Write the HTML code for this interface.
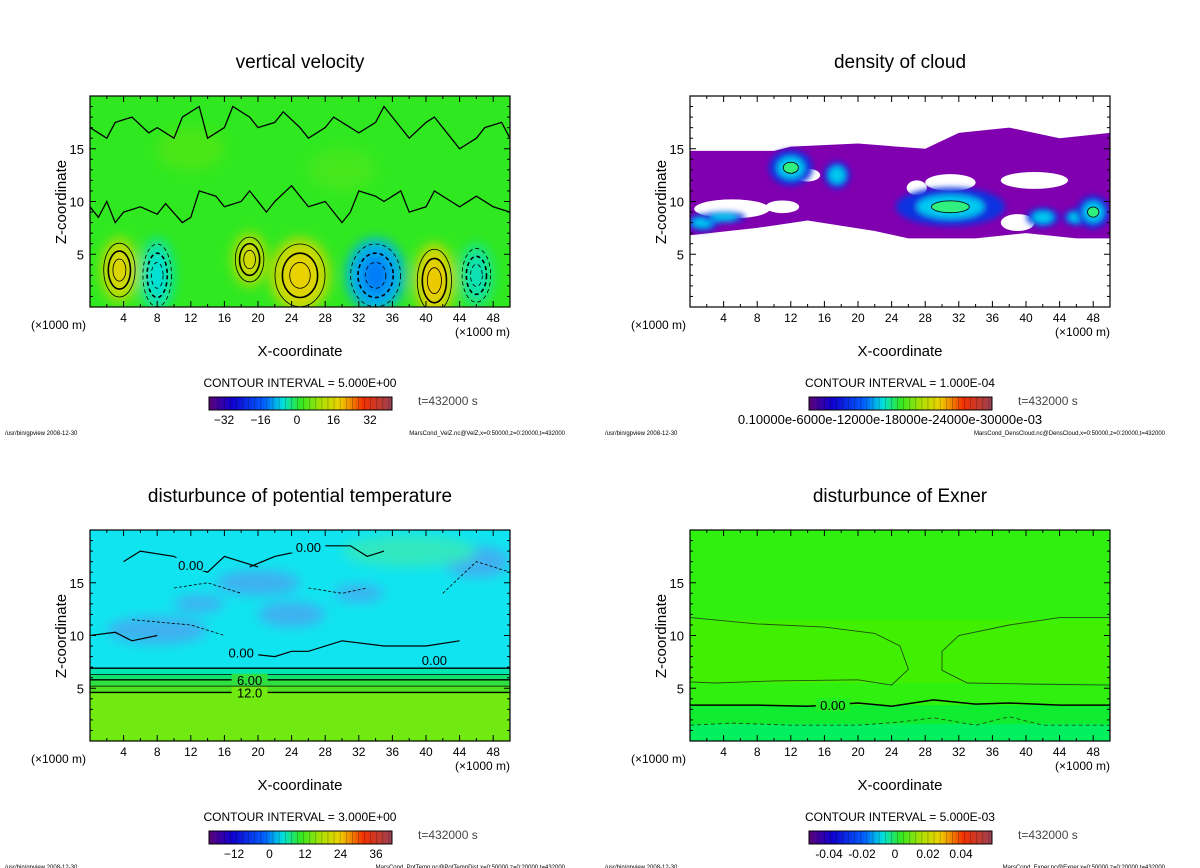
<!DOCTYPE html>
<html><head><meta charset="utf-8">
<style>
html,body{margin:0;padding:0;background:#fff;}
svg{display:block;font-family:"Liberation Sans","DejaVu Sans",sans-serif;}
</style></head>
<body>
<svg id="root" width="1200" height="868" viewBox="0 0 1200 868" xmlns="http://www.w3.org/2000/svg">
<defs>
<filter id="blur6" x="-50%" y="-50%" width="200%" height="200%"><feGaussianBlur stdDeviation="6"/></filter>
<filter id="blur3" x="-50%" y="-50%" width="200%" height="200%"><feGaussianBlur stdDeviation="3"/></filter>
</defs>
</svg>
<script>
// ---------- data ----------
const xTicks = [4,8,12,16,20,24,28,32,36,40,44,48];
const zTicks = [5,10,15];
// vertical velocity blobs: x (km), z (km), rx, rz, value (m/s)
const velX = [3.5, 8, 19, 25, 34, 41, 46, 12, 30];
const velZ = [3.5, 3, 4.5, 3, 3, 2.5, 3, 15, 13];
const velRX = [2.2, 2, 2, 3.5, 3.5, 2.4, 2, 4, 4];
const velRZ = [3, 3.5, 2.5, 3.5, 3.5, 3.5, 3, 2, 2];
const velV = [12, -6, 11, 13, -11, 14, -5, 2, 1.5];
// zero contour polylines of vertical velocity
const velZero1 = [[0,9.5],[1,8.5],[2,10],[3,8],[4,9],[6,9.5],[8,8.8],[9,9.8],[11,8],[12,8.5],[13,11],[15,10.5],[16,9.5],[18,10],[19,11],[21,9],[22,10],[24,11.5],[26,9.5],[28,10],[30,8],[31,9],[32,11],[34,10.5],[35,10],[37,11],[38,9],[40,9.5],[41,11],[43,10],[44,9.5],[46,10.5],[48,9.5],[50,9]];
const velZero2 = [[0,17],[2,16],[3,17.5],[5,18],[7,16.5],[8,17],[10,16],[11,18],[13,19],[14,16],[16,17],[17,19],[19,18],[20,17],[22,17.5],[23,18.5],[25,17],[26,16],[28,17],[29,18],[31,17],[32,16.5],[34,17.5],[35,19],[37,17],[38,16],[40,17.5],[41,18],[43,16],[44,15],[46,16],[47,17],[49,17.5],[50,16]];
// cloud density: purple band and holes
const cloudTop = [[0,14.8],[10,14.8],[12,15.2],[20,15.5],[28,15],[32,16.5],[38,17],[44,16],[50,16.5]];
const cloudBot = [[0,6.8],[8,7.5],[14,8.2],[22,7.2],[26,6.5],[34,6.5],[40,7],[46,6.5],[50,6.5]];
const holeX = [5, 14, 27, 31, 41, 39, 11];
const holeZ = [9.3, 12.5, 11.3, 11.8, 12, 8, 9.5];
const holeRX = [4.5, 1.5, 1.2, 3, 4, 2, 2];
const holeRZ = [0.9, 0.6, 0.7, 0.8, 0.8, 0.8, 0.6];
const cldX = [12, 17.5, 31, 42, 46, 48, 1.5, 4];
const cldZ = [13.2, 12.5, 9.5, 8.5, 8.5, 9, 8, 8.5];
const cldRX = [2, 1.2, 5, 1.5, 1.2, 1.5, 1.5, 2];
const cldRZ = [1.3, 1, 1.4, 0.7, 0.6, 1.2, 0.6, 0.4];
const cldV = [0.0002, 0.0001, 0.00022, 0.00012, 0.0001, 0.00015, 0.00012, 0.00008];
// potential temperature: band contour levels (z) with labels
const ptLevels = [6.9, 6.3, 5.8, 5.2, 4.6];
const ptLabels = ["", "", "6.00", "", "12.0"];
const ptPatchX = [8, 20, 24, 46, 13, 32];
const ptPatchZ = [10.5, 15, 12, 17, 13, 14];
const ptPatchRX = [6, 5, 4, 4, 3, 3];
const ptPatchRZ = [1.3, 1.2, 1.2, 1.5, 0.8, 0.8];
// Exner: contour lines
const exLine1 = [[0,11.7],[8,11.1],[16,10.8],[22,10.2],[25,9],[26,6.8],[24,5.3],[20,5.8],[10,5.7],[3,5.5],[0,5.6]];
const exLine2 = [[50,11.7],[44,11.7],[38,11],[32,10],[30,8.5],[30,6.7],[33,5.5],[40,5.4],[50,5.3]];
const exZero = [[0,3.4],[8,3.4],[14,3.3],[20,3.6],[24,3.3],[29,3.9],[34,3.5],[38,3.6],[44,3.4],[50,3.4]];
const exNeg = [[0,1.5],[5,1.7],[12,1.5],[20,1.5],[25,1.8],[29,2.2],[34,1.5],[38,2.3],[42,1.5],[50,1.5]];
// colorbar labels
const cb1 = [-32,-16,0,16,32];
const cb2 = ["0.10000e-6000e-12000e-18000e-24000e-30000e-03"];
const cb3 = [-12,0,12,24,36];
const cb4 = ["-0.04","-0.02","0","0.02","0.04"];

// ---------- helpers ----------
const NS="http://www.w3.org/2000/svg";
const root=document.getElementById('root');
function el(tag,attrs,parent){const e=document.createElementNS(NS,tag);for(const k in attrs)e.setAttribute(k,attrs[k]);(parent||root).appendChild(e);return e;}
const stops=[[0,[90,0,128]],[0.12,[16,0,208]],[0.3,[0,96,255]],[0.4,[0,224,224]],[0.5,[48,232,32]],[0.62,[176,224,0]],[0.72,[240,208,0]],[0.85,[240,48,0]],[1,[160,64,80]]];
function cmap(t){t=Math.max(0,Math.min(1,t));for(let i=1;i<stops.length;i++){if(t<=stops[i][0]){const a=stops[i-1],b=stops[i];const f=(t-a[0])/(b[0]-a[0]);const c=a[1].map((v,j)=>Math.round(v+(b[1][j]-v)*f));return `rgb(${c})`;}}return 'rgb(160,64,80)';}
function axes(ox,oy){
  const sx=x=>ox+90+x*8.4, sz=z=>oy+307-z*10.55;
  return {sx,sz,path:pts=>pts.map((p,i)=>(i?'L':'M')+sx(p[0]).toFixed(1)+','+sz(p[1]).toFixed(1)).join('')};
}
let clipN=0;
function panel(ox,oy,title,name){
  const g=el('g',{});
  
  
  const id='clip'+(clipN++);
  const cp=el('clipPath',{id},g);el('rect',{x:ox+90,y:oy+96,width:420,height:211},cp);
  const plot=el('g',{'clip-path':`url(#${id})`},g);
  
  
  return {g,plot,A:axes(ox,oy),ox,oy,title};
}
function frame(P,ci,file,cbLabels,cbShift,cbSize){
  const {g,ox,oy,A}=P;
  el('rect',{x:ox+90,y:oy+96,width:420,height:211,fill:'none',stroke:'#000','stroke-width':1.2},g);
  for(let x=2;x<50;x+=2){const L=(x%4==0)?6:3;
    el('line',{x1:A.sx(x),x2:A.sx(x),y1:oy+307,y2:oy+307-L,stroke:'#000'},g);
    el('line',{x1:A.sx(x),x2:A.sx(x),y1:oy+96,y2:oy+96+L,stroke:'#000'},g);}
  for(let z=1;z<20;z++){const L=(z%5==0)?6:3;
    el('line',{x1:ox+90,x2:ox+90+L,y1:A.sz(z),y2:A.sz(z),stroke:'#000'},g);
    el('line',{x1:ox+510,x2:ox+510-L,y1:A.sz(z),y2:A.sz(z),stroke:'#000'},g);}
  const xt=el('g',{},g);
  xTicks.forEach(v=>{const t=el('text',{x:A.sx(v),y:oy+322,'text-anchor':'middle','font-size':12},xt);t.textContent=v;});
  const zt=el('g',{},g);
  zTicks.forEach(v=>{const t=el('text',{x:ox+84,y:A.sz(v)+5,'text-anchor':'end','font-size':13},zt);t.textContent=v;});
  let t;
  t=el('text',{x:ox+300,y:oy+68,'text-anchor':'middle','font-size':19},g);t.textContent=P.title;
  
  t=el('text',{x:ox+300,y:oy+356,'text-anchor':'middle','font-size':15},g);t.textContent='X-coordinate';
  
  t=el('text',{transform:`translate(${ox+66},${oy+202}) rotate(-90)`,'text-anchor':'middle','font-size':15},g);t.textContent='Z-coordinate';
  
  t=el('text',{x:ox+31,y:oy+329,'font-size':12},g);t.textContent='(×1000 m)';
  
  t=el('text',{x:ox+455,y:oy+336,'font-size':12},g);t.textContent='(×1000 m)';
  
  t=el('text',{x:ox+300,y:oy+387,'text-anchor':'middle','font-size':12},g);t.textContent='CONTOUR INTERVAL = '+ci;
  
  t=el('text',{x:ox+418,y:oy+405,'font-size':12,fill:'#444'},g);t.textContent='t=432000 s';
  
  const cb=el('g',{},g);
  const n=60;for(let i=0;i<n;i++){const c=cmap(i/(n-1));el('rect',{x:ox+209+i*183/n,y:oy+397,width:183/n+0.3,height:13,fill:c},cb);
    if(i%2)el('line',{x1:ox+209+i*183/n,x2:ox+209+i*183/n,y1:oy+397,y2:oy+410,stroke:'rgba(0,0,0,0.35)','stroke-width':0.6},cb);}
  el('rect',{x:ox+209,y:oy+397,width:183,height:13,fill:'none',stroke:'#000'},cb);
  cbLabels.forEach((v,i)=>{const tt=el('text',{x:ox+cbShift[0]+i*cbShift[1],y:oy+424,'text-anchor':'middle','font-size':cbSize||12},cb);tt.textContent=(typeof v==='number'&&v<0)?'−'+(-v):v;});
  t=el('text',{x:ox+5,y:oy+435,'font-size':6},g);t.textContent='/usr/bin/gpview  2008-12-30';
  
  t=el('text',{x:ox+565,y:oy+435,'font-size':6,'text-anchor':'end'},g);t.textContent=file;
  
}
function ell(parent,A,x,z,rx,rz,attrs){return el('ellipse',Object.assign({cx:A.sx(x),cy:A.sz(z),rx:rx*8.4,ry:rz*10.55},attrs),parent);}

// ---------- panel 1: vertical velocity ----------
let P=panel(0,0,'vertical velocity','vertical-velocity');
el('rect',{x:90,y:96,width:420,height:211,fill:cmap(0.5)},P.plot);
const b1=el('g',{filter:'url(#blur6)'},P.plot);
velX.forEach((x,i)=>{
  const t=0.5+velV[i]/80;
  const e=ell(b1,P.A,x,velZ[i],velRX[i],velRZ[i],{fill:cmap(t)});
  
  if(Math.abs(velV[i])>4){const e2=ell(b1,P.A,x,velZ[i],velRX[i]*0.5,velRZ[i]*0.55,{fill:cmap(0.5+velV[i]*1.3/80)});
  }
});
velX.forEach((x,i)=>{ if(Math.abs(velV[i])<4)return;
  const d=velV[i]<0?'4,3':'none';
  [0.85,0.6,0.35].forEach((s,k)=>{const e=ell(P.plot,P.A,x,velZ[i],velRX[i]*s,velRZ[i]*s,{fill:'none',stroke:'#000','stroke-width':k==1?1.6:0.8,'stroke-dasharray':d});
  });
});
[velZero1,velZero2].forEach(L=>{const p=el('path',{d:P.A.path(L),fill:'none',stroke:'#000','stroke-width':1.3},P.plot);
  });
frame(P,'5.000E+00','MarsCond_VelZ.nc@VelZ,x=0:50000,z=0:20000,t=432000',cb1,[224,36.5]);

// ---------- panel 2: density of cloud ----------
P=panel(600,0,'density of cloud','cloud-density');
const band=cloudTop.concat(cloudBot.slice().reverse());
let p=el('path',{d:P.A.path(band)+'Z',fill:'#8000b0'},P.plot);

holeX.forEach((x,i)=>{const e=ell(P.plot,P.A,x,holeZ[i],holeRX[i],holeRZ[i],{fill:'#fff'});
  });
const b2=el('g',{filter:'url(#blur3)'},P.plot);
cldX.forEach((x,i)=>{const v=cldV[i];
  ell(b2,P.A,x,cldZ[i],cldRX[i]*1.3,cldRZ[i]*1.3,{fill:'#1030e0'});
  ell(b2,P.A,x,cldZ[i],cldRX[i]*0.8,cldRZ[i]*0.8,{fill:'#00c8f0'});
  if(v>=0.00015){const e=ell(P.plot,P.A,x,cldZ[i],cldRX[i]*0.45,cldRZ[i]*0.4,{fill:'#30f080',stroke:'#000','stroke-width':0.8});
    }
});
frame(P,'1.000E-04','MarsCond_DensCloud.nc@DensCloud,x=0:50000,z=0:20000,t=432000',cb2,[290,0],13);

// ---------- panel 3: potential temperature ----------
P=panel(0,434,'disturbunce of potential temperature','potential-temperature');
let A=P.A;
el('rect',{x:90,y:530,width:420,height:211,fill:'#10e4f0'},P.plot);
const b3=el('g',{filter:'url(#blur6)'},P.plot);
ptPatchX.forEach((x,i)=>{const e=ell(b3,A,x,ptPatchZ[i],ptPatchRX[i],ptPatchRZ[i],{fill:'#40b0f0'});
  });
ell(b3,A,38,18,8,1.5,{fill:'#30e8c0'});
const bandCols=['#00e8b0','#10e070','#30e040','#50e020','#70ea10'];
ptLevels.forEach((z,i)=>{const r=el('rect',{x:90,y:A.sz(z),width:420,height:A.sz(i<4?ptLevels[i+1]:0)-A.sz(z),fill:bandCols[i]},P.plot);
  });
ptLevels.forEach((z,i)=>{const l=el('line',{x1:90,x2:510,y1:A.sz(z),y2:A.sz(z),stroke:'#000','stroke-width':i%2==0?1.4:0.8},P.plot);
  
  if(ptLabels[i]){el('rect',{x:A.sx(19)-18,y:A.sz(z)-6,width:36,height:12,fill:bandCols[i]},P.plot);
    const t=el('text',{x:A.sx(19),y:A.sz(z)+5,'text-anchor':'middle','font-size':13},P.plot);t.textContent=ptLabels[i];}});
[[[4,17],[6,18],[10,17.5],[12,16.5],[14,16],[16,17.5],[20,16.5]],[[19,16.5],[22,17.5],[25,18],[28,18.5],[31,18.5],[33,17.5],[35,18]],[[0,10],[3,10.3],[5,9.5],[8,10]],[[16,8.5],[22,8],[24,8.5],[26,8.5],[30,9.5],[35,9],[40,9],[44,9.5]]].forEach(L=>{
  const q=el('path',{d:A.path(L),fill:'none',stroke:'#000','stroke-width':1.2},P.plot);
  });
[[[5,11.5],[12,11],[16,10]],[[42,14],[46,17],[50,16]],[[10,14.5],[14,15],[18,14]],[[26,14.5],[30,14],[33,14.5]]].forEach(L=>{el('path',{d:A.path(L),fill:'none',stroke:'#000','stroke-dasharray':'3,2','stroke-width':0.8},P.plot);});
[[12,16.7],[26,18.4],[18,8.4],[41,7.7]].forEach(p=>{el('rect',{x:A.sx(p[0])-17,y:A.sz(p[1])-7,width:34,height:13,fill:'#10e4f0'},P.plot);
  const t=el('text',{x:A.sx(p[0]),y:A.sz(p[1])+5,'text-anchor':'middle','font-size':13},P.plot);t.textContent='0.00';});
frame(P,'3.000E+00','MarsCond_PotTemp.nc@PotTempDist,x=0:50000,z=0:20000,t=432000',cb3,[234,35.5]);

// ---------- panel 4: Exner ----------
P=panel(600,434,'disturbunce of Exner','exner');
A=P.A;
el('rect',{x:690,y:530,width:420,height:211,fill:'#30f010'},P.plot);
el('rect',{x:690,y:A.sz(11.5),width:420,height:A.sz(5.5)-A.sz(11.5),fill:'#40f000'},P.plot);
el('rect',{x:690,y:A.sz(3.4),width:420,height:A.sz(0)-A.sz(3.4),fill:'#10ec30'},P.plot);
el('rect',{x:690,y:A.sz(1.6),width:420,height:A.sz(0)-A.sz(1.6),fill:'#00f060'},P.plot);
[exLine1,exLine2].forEach(L=>{const q=el('path',{d:A.path(L),fill:'none',stroke:'#205010','stroke-width':0.9},P.plot);
  });
p=el('path',{d:A.path(exZero),fill:'none',stroke:'#000','stroke-width':1.5},P.plot);

p=el('path',{d:A.path(exNeg),fill:'none',stroke:'#205010','stroke-dasharray':'4,3','stroke-width':0.9},P.plot);

el('rect',{x:A.sx(17)-17,y:A.sz(3.4)-7,width:34,height:13,fill:'#20ee20'},P.plot);
let tt=el('text',{x:A.sx(17),y:A.sz(3.4)+5,'text-anchor':'middle','font-size':13},P.plot);tt.textContent='0.00';
frame(P,'5.000E-03','MarsCond_Exner.nc@Exner,x=0:50000,z=0:20000,t=432000',cb4,[229,33]);
</script>
</body></html>
